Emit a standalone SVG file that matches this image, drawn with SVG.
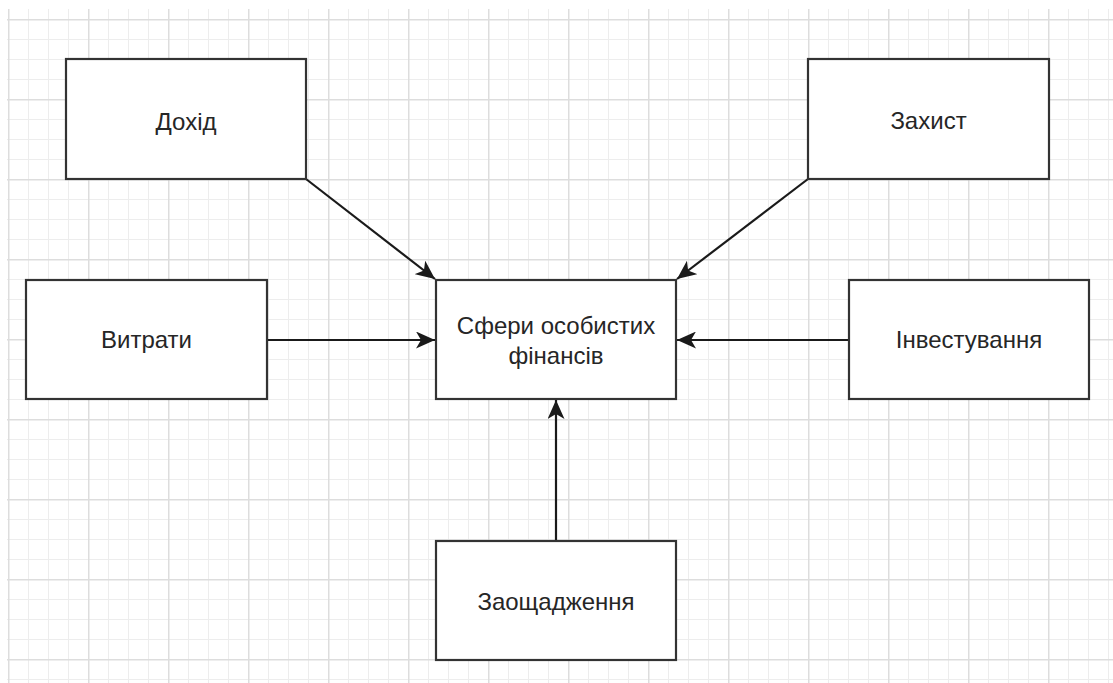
<svg xmlns="http://www.w3.org/2000/svg" width="1113" height="683" viewBox="0 0 1113 683">
  <defs>
    <pattern id="grid" patternUnits="userSpaceOnUse" x="8" y="19" width="80" height="80">
      <rect x="20" y="0" width="1" height="80" fill="#ededed"/>
      <rect x="40" y="0" width="1" height="80" fill="#ededed"/>
      <rect x="60" y="0" width="1" height="80" fill="#ededed"/>
      <rect x="0" y="20" width="80" height="1" fill="#ededed"/>
      <rect x="0" y="40" width="80" height="1" fill="#ededed"/>
      <rect x="0" y="60" width="80" height="1" fill="#ededed"/>
      <rect x="0" y="0" width="1.5" height="80" fill="#dddddd"/>
      <rect x="0" y="0" width="80" height="1.5" fill="#dddddd"/>
    </pattern>
    <marker id="arrow" viewBox="-19 -8.5 19 17" refX="0" refY="0" markerWidth="19" markerHeight="17" markerUnits="userSpaceOnUse" orient="auto">
      <path d="M0,0 L-19,-8.5 L-14,0 L-19,8.5 Z" fill="#1a1a1a"/>
    </marker>
  </defs>
  <style>
    .node rect { fill: #ffffff; stroke: #333333; stroke-width: 2.2; }
    .node text { font-family: "Liberation Sans", Arial, sans-serif; font-size: 24px; fill: #262626; text-anchor: middle; }
    .edge { stroke: #1a1a1a; stroke-width: 2.2; fill: none; marker-end: url(#arrow); }
  </style>
  <rect x="0" y="0" width="1113" height="683" fill="#ffffff"/>
  <rect x="7" y="9" width="1106" height="674" fill="url(#grid)"/>

  <g id="connectors">
    <line class="edge" x1="306" y1="179" x2="435" y2="279"/>
    <line class="edge" x1="808" y1="179" x2="677" y2="279"/>
    <line class="edge" x1="267" y1="340" x2="435" y2="340"/>
    <line class="edge" x1="849" y1="340" x2="677" y2="340"/>
    <line class="edge" x1="556" y1="541" x2="556" y2="400"/>
  </g>

  <g id="node-dokhid" class="node">
    <rect x="66" y="59" width="240" height="120"/>
    <text x="186" y="130">Дохід</text>
  </g>
  <g id="node-zakhyst" class="node">
    <rect x="808" y="59" width="241" height="120"/>
    <text x="928.5" y="129">Захист</text>
  </g>
  <g id="node-vytraty" class="node">
    <rect x="26" y="280" width="241" height="119"/>
    <text x="146.5" y="348">Витрати</text>
  </g>
  <g id="node-center" class="node">
    <rect x="436" y="280" width="240" height="119"/>
    <text x="556" y="334">Сфери особистих</text>
    <text x="556" y="364">фінансів</text>
  </g>
  <g id="node-investuvannia" class="node">
    <rect x="849" y="280" width="240" height="119"/>
    <text x="969" y="348">Інвестування</text>
  </g>
  <g id="node-zaoshchadzhennia" class="node">
    <rect x="436" y="541" width="240" height="119"/>
    <text x="556" y="610">Заощадження</text>
  </g>
</svg>
